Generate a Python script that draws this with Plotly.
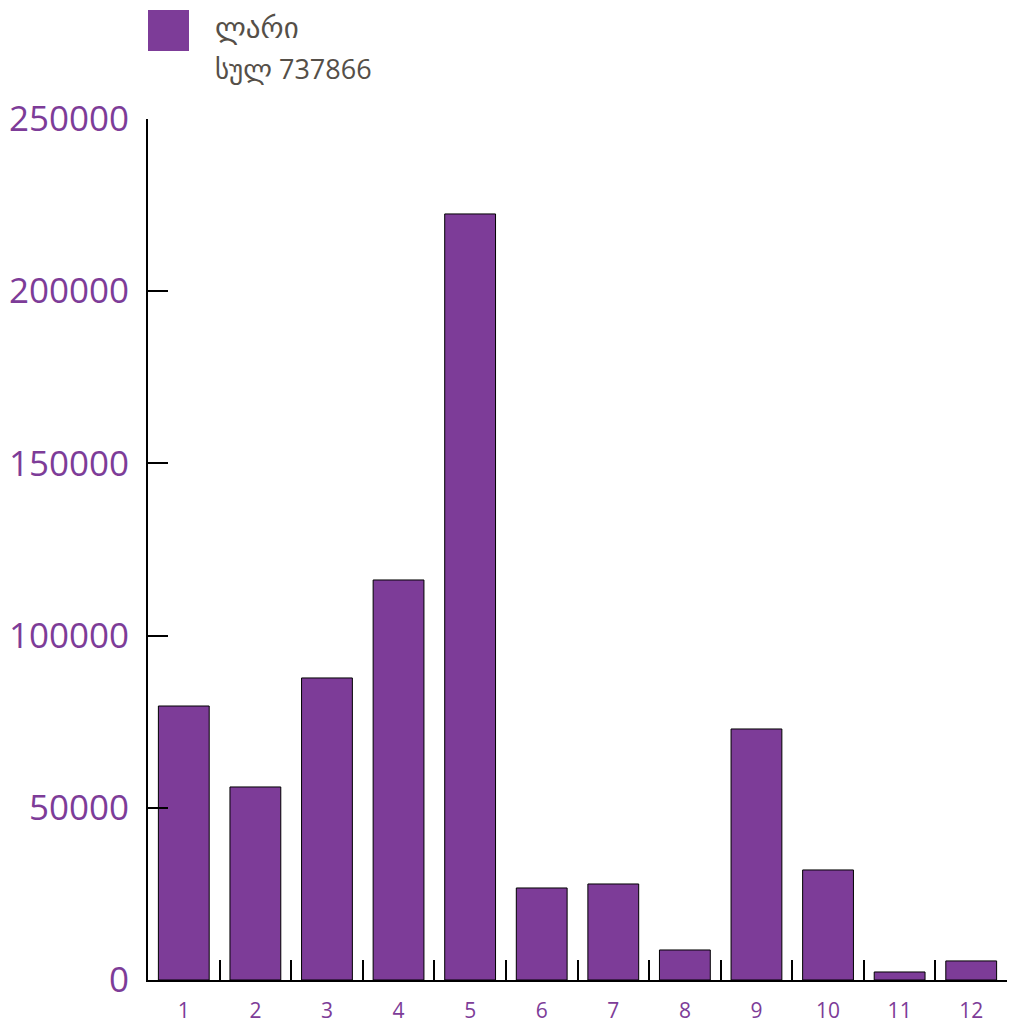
import plotly.graph_objects as go

categories = ["1", "2", "3", "4", "5", "6", "7", "8", "9", "10", "11", "12"]
values = [79560, 56050, 87700, 116150, 222430, 26720, 27880, 8720, 72890, 31950, 2330, 5536]
y_ticks = [0, 50000, 100000, 150000, 200000, 250000]
series_name = "ლარი"
total_label = "სულ 737866"

PURPLE = "#7D3C98"
TEXT_GRAY = "#554F48"

fig = go.Figure()
fig.add_trace(go.Bar(
    x=categories, y=values, name=series_name,
    marker=dict(color=PURPLE, line=dict(color="black", width=1)),
    showlegend=False,
))

fig.update_layout(
    width=1011, height=1023,
    margin=dict(l=148, r=4, t=119, b=43),
    paper_bgcolor="white", plot_bgcolor="white",
    bargap=0.29,
    font=dict(family="Open Sans, DejaVu Sans, sans-serif"),
    xaxis=dict(
        type="category", tickson="boundaries",
        ticks="inside", ticklen=20, tickwidth=2, tickcolor="black",
        showline=True, linecolor="black", linewidth=2,
        showgrid=False, zeroline=False, automargin=False,
        tickfont=dict(size=21, color=PURPLE),
        ticklabelstandoff=11,
    ),
    yaxis=dict(
        range=[0, 250000], tickmode="array", tickvals=y_ticks,
        ticktext=[str(v) for v in y_ticks],
        ticks="inside", ticklen=20, tickwidth=2, tickcolor="black",
        showline=True, linecolor="black", linewidth=2,
        showgrid=False, zeroline=False, automargin=False,
        tickfont=dict(size=35, color=PURPLE),
        ticklabelstandoff=10,
    ),
)

# legend swatch and text
fig.add_shape(type="rect", xref="paper", yref="paper",
              x0=0, x1=41 / 859, y0=1 + (119 - 51) / 861, y1=1 + (119 - 10) / 861,
              fillcolor=PURPLE, line=dict(width=0))
fig.add_annotation(xref="paper", yref="paper", x=(213 - 148) / 859, y=1 + (119 - 28) / 861,
                   text=series_name, showarrow=False, xanchor="left", yanchor="middle",
                   font=dict(size=29, color=TEXT_GRAY, family="DejaVu Sans, sans-serif"))
fig.add_annotation(xref="paper", yref="paper", x=(213 - 148) / 859, y=1 + (119 - 68) / 861,
                   text=total_label, showarrow=False, xanchor="left", yanchor="middle",
                   font=dict(size=27, color=TEXT_GRAY, family="Open Sans, DejaVu Sans, sans-serif"))

fig.write_html(
    "out.html",
    config={"displayModeBar": False},
    post_script="document.body.style.margin='0';document.body.style.overflow='hidden';",
)
